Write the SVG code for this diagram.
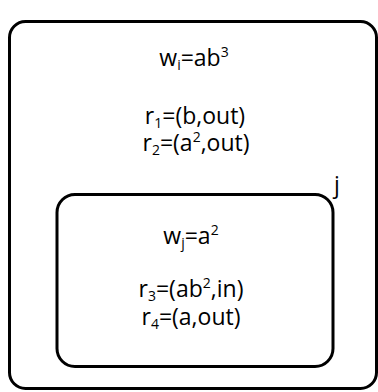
<svg xmlns="http://www.w3.org/2000/svg" width="378" height="392" viewBox="0 0 378 392">
<style>
.box{fill:#fff;stroke:#000;stroke-width:3}
.t{font-family:"Open Sans","DejaVu Sans",sans-serif;font-size:23px;fill:#000;text-anchor:middle}
.s{font-size:14px}
</style>
<rect width="378" height="392" fill="#fff"/>
<g id="node-i">
<rect class="box" x="9.5" y="21.5" width="367" height="367" rx="16"/>
<text class="t" x="194" y="66">w<tspan class="s" dy="4">i</tspan><tspan dy="-4">=ab</tspan><tspan class="s" dy="-9">3</tspan></text>
<text class="t" x="195" y="124">r<tspan class="s" dy="4">1</tspan><tspan dy="-4">=(b,out)</tspan><tspan x="196" y="151">r</tspan><tspan class="s" dy="4">2</tspan><tspan dy="-4">=(a</tspan><tspan class="s" dy="-9">2</tspan><tspan dy="9">,out)</tspan></text>
</g>
<g id="node-j">
<rect class="box" x="57" y="194.5" width="276" height="172" rx="18"/>
<text class="t" x="337" y="193">j</text>
<text class="t" x="191" y="244">w<tspan class="s" dy="4">j</tspan><tspan dy="-4">=a</tspan><tspan class="s" dy="-9">2</tspan></text>
<text class="t" x="191" y="297">r<tspan class="s" dy="4">3</tspan><tspan dy="-4">=(ab</tspan><tspan class="s" dy="-9">2</tspan><tspan dy="9">,in)</tspan><tspan x="191" y="325">r</tspan><tspan class="s" dy="4">4</tspan><tspan dy="-4">=(a,out)</tspan></text>
</g>
<g id="connectors"></g>
</svg>
